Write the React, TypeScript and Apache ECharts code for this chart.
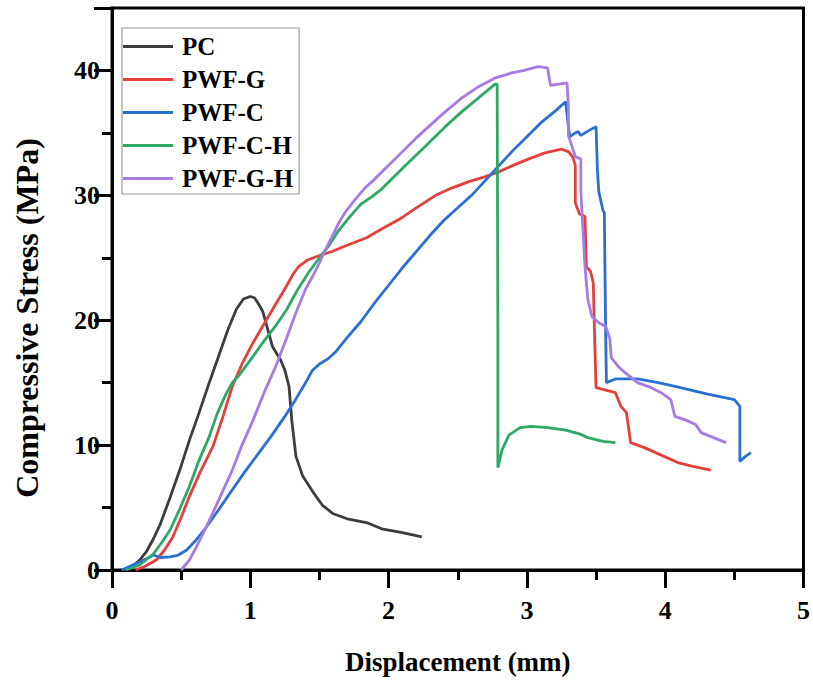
import React, { useEffect, useRef } from "react";
import * as echarts from "echarts";

const seriesNames = ["PC", "PWF-G", "PWF-C", "PWF-C-H", "PWF-G-H"];
const seriesColors = ["#3d3d3d", "#e4403b", "#2a6fd1", "#2fa866", "#a67be3"];

const xTicks = [0, 1, 2, 3, 4, 5];
const yTicks = [0, 10, 20, 30, 40];
const xTitle = "Displacement (mm)";
const yTitle = "Compressive Stress (MPa)";

const pcData: [number, number][] = [
  [0.09, 0], [0.15, 0.3], [0.2, 0.8], [0.25, 1.5], [0.3, 2.5], [0.35, 3.7], [0.42, 5.8],
  [0.49, 8.0], [0.56, 10.4], [0.63, 12.6], [0.7, 14.9], [0.77, 17.1], [0.84, 19.3],
  [0.9, 20.9], [0.95, 21.7], [1.0, 21.9], [1.03, 21.8], [1.06, 21.3], [1.09, 20.7],
  [1.12, 19.5], [1.16, 17.9], [1.22, 16.8], [1.25, 16.0], [1.28, 14.7], [1.3, 12.0],
  [1.33, 9.1], [1.38, 7.5], [1.45, 6.3], [1.52, 5.2], [1.6, 4.5], [1.7, 4.1],
  [1.84, 3.8], [1.95, 3.3], [2.1, 3.0], [2.24, 2.65],
];

const pwfGData: [number, number][] = [
  [0.17, 0], [0.24, 0.3], [0.32, 0.8], [0.38, 1.6], [0.44, 2.65], [0.5, 4.2], [0.56, 5.9],
  [0.64, 7.9], [0.73, 9.9], [0.8, 12.2], [0.87, 14.7], [0.94, 16.5], [1.02, 18.2],
  [1.12, 20.1], [1.19, 21.4], [1.26, 22.7], [1.31, 23.7], [1.35, 24.3], [1.41, 24.8],
  [1.48, 25.1], [1.59, 25.5], [1.7, 26.0], [1.84, 26.6], [1.95, 27.3], [2.08, 28.1],
  [2.2, 29.0], [2.34, 30.0], [2.46, 30.6], [2.58, 31.1], [2.7, 31.5], [2.8, 31.9],
  [2.9, 32.4], [3.01, 32.9], [3.13, 33.4], [3.25, 33.7], [3.3, 33.5], [3.33, 33.1],
  [3.35, 32.4], [3.35, 29.4], [3.38, 28.5], [3.42, 28.3], [3.43, 24.3], [3.46, 23.9],
  [3.48, 23.0], [3.49, 18.5], [3.5, 14.6], [3.64, 14.2], [3.68, 13.1], [3.72, 12.6],
  [3.75, 10.2], [3.85, 9.8], [3.93, 9.4], [4.09, 8.6], [4.2, 8.3], [4.33, 8.0],
];

const pwfCData: [number, number][] = [
  [0.07, 0], [0.15, 0.4], [0.25, 0.9], [0.3, 1.2], [0.35, 1.0], [0.42, 1.05], [0.48, 1.2],
  [0.54, 1.6], [0.6, 2.3], [0.68, 3.4], [0.77, 4.8], [0.85, 6.1], [0.95, 7.7], [1.05, 9.2],
  [1.15, 10.7], [1.25, 12.3], [1.33, 13.7], [1.4, 15.0], [1.45, 16.0], [1.5, 16.5],
  [1.56, 16.9], [1.62, 17.5], [1.7, 18.6], [1.8, 19.9], [1.9, 21.4], [2.0, 22.8],
  [2.1, 24.2], [2.2, 25.5], [2.3, 26.8], [2.4, 28.0], [2.5, 29.0], [2.6, 30.0],
  [2.7, 31.2], [2.8, 32.4], [2.9, 33.6], [3.0, 34.7], [3.1, 35.8], [3.2, 36.7],
  [3.28, 37.5], [3.3, 35.5], [3.31, 34.7], [3.35, 35.0], [3.37, 35.1], [3.39, 34.8],
  [3.45, 35.2], [3.5, 35.5], [3.51, 32.0], [3.52, 30.3], [3.55, 28.8], [3.56, 28.6],
  [3.57, 18.5], [3.575, 15.0], [3.64, 15.3], [3.8, 15.3], [3.95, 15.0], [4.11, 14.6],
  [4.3, 14.1], [4.5, 13.65], [4.54, 13.1], [4.54, 8.7], [4.58, 9.1], [4.62, 9.4],
];

const pwfCHData: [number, number][] = [
  [0.1, 0], [0.2, 0.4], [0.3, 1.3], [0.36, 2.2], [0.42, 3.2], [0.49, 4.9], [0.56, 6.7],
  [0.63, 8.8], [0.7, 10.6], [0.76, 12.5], [0.82, 14.0], [0.87, 15.0], [0.92, 15.6],
  [1.0, 16.8], [1.09, 18.2], [1.18, 19.5], [1.26, 20.8], [1.34, 22.4], [1.42, 23.8],
  [1.5, 25.0], [1.57, 26.0], [1.64, 27.2], [1.72, 28.3], [1.8, 29.3], [1.88, 29.9],
  [1.95, 30.5], [2.05, 31.6], [2.17, 32.9], [2.29, 34.2], [2.41, 35.5], [2.53, 36.7],
  [2.65, 37.8], [2.77, 38.9], [2.785, 38.9], [2.79, 20.0], [2.79, 8.2], [2.82, 9.6],
  [2.87, 10.8], [2.95, 11.4], [3.03, 11.5], [3.15, 11.4], [3.28, 11.2], [3.38, 10.9],
  [3.44, 10.6], [3.55, 10.3], [3.64, 10.2],
];

const pwfGHData: [number, number][] = [
  [0.5, 0], [0.56, 0.8], [0.61, 1.85], [0.67, 3.2], [0.73, 4.6], [0.8, 6.3], [0.87, 8.0],
  [0.94, 10.0], [1.02, 12.0], [1.1, 14.2], [1.18, 16.2], [1.26, 18.5], [1.33, 20.6],
  [1.4, 22.5], [1.45, 23.5], [1.5, 24.6], [1.55, 25.8], [1.6, 26.9], [1.64, 27.8],
  [1.69, 28.7], [1.76, 29.7], [1.83, 30.6], [1.9, 31.3], [2.0, 32.4], [2.1, 33.5],
  [2.2, 34.6], [2.3, 35.6], [2.4, 36.6], [2.53, 37.8], [2.65, 38.7], [2.77, 39.4],
  [2.89, 39.8], [2.98, 40.0], [3.08, 40.3], [3.15, 40.2], [3.17, 38.8], [3.23, 38.9],
  [3.29, 39.0], [3.3, 37.2], [3.3, 34.8], [3.35, 33.1], [3.39, 32.9], [3.39, 30.3],
  [3.42, 24.3], [3.44, 21.7], [3.47, 20.3], [3.52, 19.8], [3.57, 19.5], [3.6, 18.5],
  [3.61, 17.0], [3.66, 16.3], [3.71, 15.8], [3.8, 15.0], [3.9, 14.6], [3.97, 14.2],
  [4.04, 13.65], [4.07, 12.3], [4.15, 12.0], [4.22, 11.65], [4.26, 11.0], [4.35, 10.6],
  [4.44, 10.2],
];

const allData = [pcData, pwfGData, pwfCData, pwfCHData, pwfGHData];

const FONT = "'Liberation Serif', 'Times New Roman', serif";

export default function App() {
  const ref = useRef<HTMLDivElement>(null);

  useEffect(() => {
    document.body.style.margin = "0";
    if (!ref.current) return;
    const chart = echarts.init(ref.current, null, { renderer: "svg" });
    chart.setOption({
      animation: false,
      backgroundColor: "#ffffff",
      grid: {
        left: 112,
        right: 7,
        top: 8,
        bottom: 119,
        show: true,
        borderColor: "#000",
        borderWidth: 3,
      },
      graphic: [
        {
          type: "text",
          x: 27,
          y: 318,
          rotation: Math.PI / 2,
          style: {
            text: yTitle,
            fontFamily: FONT,
            fontWeight: "bold",
            fontSize: 32,
            fill: "#000",
            textAlign: "center",
            textVerticalAlign: "middle",
          },
        },
      ],
      legend: {
        orient: "vertical",
        left: 122,
        top: 28,
        data: seriesNames,
        icon: "rect",
        itemWidth: 50,
        itemHeight: 3,
        itemGap: 8,
        padding: [6, 6, 3, 1],
        borderColor: "#9a9a9a",
        borderWidth: 1.2,
        textStyle: {
          fontFamily: FONT,
          fontWeight: "bold",
          fontSize: 25,
          color: "#000",
          padding: [0, 0, 0, 4],
        },
      },
      xAxis: {
        type: "value",
        min: xTicks[0],
        max: xTicks[xTicks.length - 1],
        interval: 1,
        name: xTitle,
        nameLocation: "middle",
        nameGap: 78,
        nameTextStyle: { fontFamily: FONT, fontWeight: "bold", fontSize: 27, color: "#000" },
        axisLine: { show: true, lineStyle: { color: "#000", width: 3 } },
        axisTick: { show: true, length: 18, lineStyle: { color: "#000", width: 3 } },
        minorTick: { show: true, splitNumber: 2, length: 10, lineStyle: { color: "#000", width: 3 } },
        splitLine: { show: false },
        minorSplitLine: { show: false },
        axisLabel: {
          fontFamily: FONT,
          fontWeight: "bold",
          fontSize: 26,
          color: "#000",
          margin: 27,
        },
      },
      yAxis: {
        type: "value",
        min: yTicks[0],
        max: 45,
        interval: 10,
        axisLine: { show: true, lineStyle: { color: "#000", width: 3 } },
        axisTick: { show: true, length: 18, lineStyle: { color: "#000", width: 3 } },
        minorTick: { show: true, splitNumber: 2, length: 10, lineStyle: { color: "#000", width: 3 } },
        splitLine: { show: false },
        minorSplitLine: { show: false },
        axisLabel: {
          fontFamily: FONT,
          fontWeight: "bold",
          fontSize: 26,
          color: "#000",
          margin: 12,
          showMaxLabel: false,
          formatter: (v: number) => (yTicks.indexOf(v) >= 0 ? String(v) : ""),
        },
      },
      series: seriesNames.map((name, i) => ({
        name,
        type: "line",
        data: allData[i],
        showSymbol: false,
        symbol: "none",
        smooth: false,
        color: seriesColors[i],
        lineStyle: { color: seriesColors[i], width: 2.8 },
      })),
    });
    return () => chart.dispose();
  }, []);

  return <div ref={ref} style={{ width: 813, height: 689 }} />;
}
